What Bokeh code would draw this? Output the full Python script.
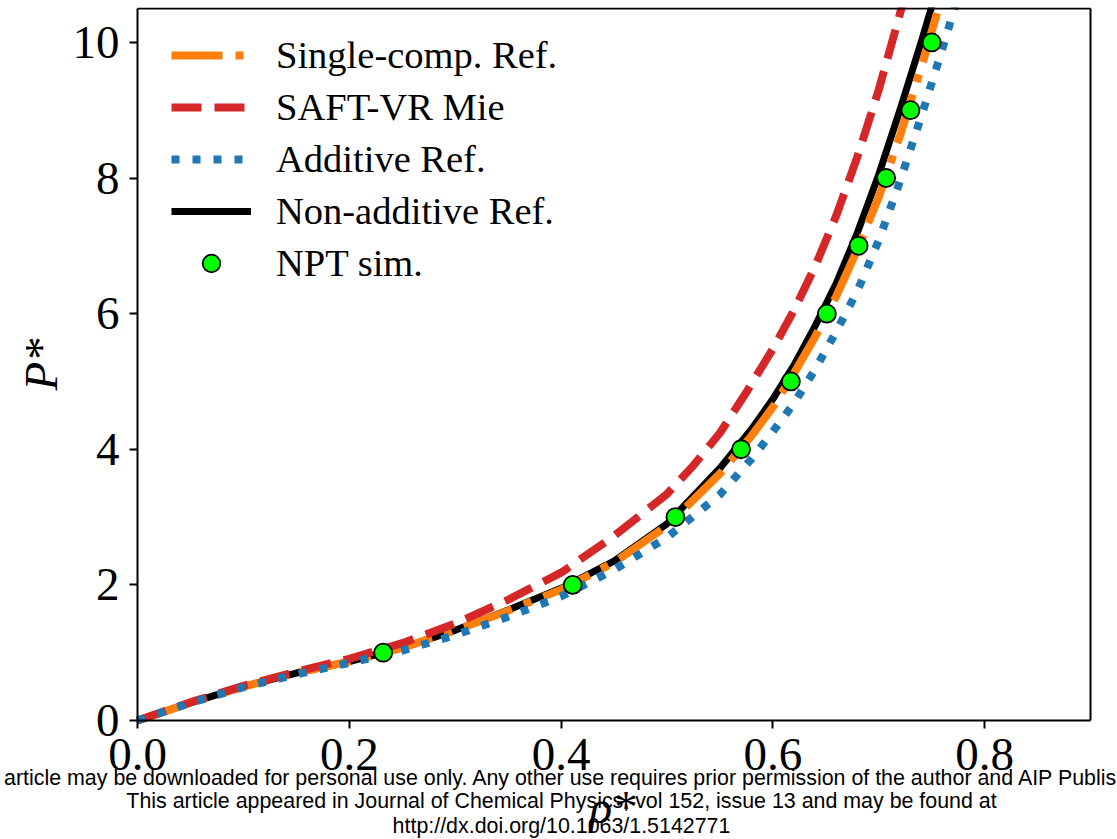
import math
from bokeh.plotting import figure
from bokeh.models import Range1d, FixedTicker, Legend, LegendItem, Label, LinearAxis
from bokeh.embed import file_html
from bokeh.resources import INLINE

# ---- data ----
rho = [0, 0.05, 0.10, 0.15, 0.20, 0.25, 0.30, 0.35, 0.40, 0.45, 0.50, 0.55,
       0.58, 0.60, 0.62, 0.64, 0.66, 0.68, 0.70, 0.72, 0.74, 0.76]
rho_add = rho + [0.78]
p_single = [0, 0.26, 0.50, 0.70, 0.87, 1.07, 1.33, 1.62, 1.93, 2.33, 2.87, 3.64,
            4.20, 4.62, 5.12, 5.66, 6.26, 6.95, 7.72, 8.62, 9.62, 10.70]
p_nonadd = [0, 0.26, 0.50, 0.70, 0.87, 1.07, 1.33, 1.63, 1.95, 2.35, 2.90, 3.72,
            4.30, 4.74, 5.24, 5.82, 6.45, 7.20, 8.05, 9.00, 10.00, 11.05]
rho_saft = [0, 0.05, 0.10, 0.15, 0.20, 0.25, 0.30, 0.35, 0.40, 0.45, 0.50, 0.525, 0.55,
            0.575, 0.60, 0.62, 0.64, 0.66, 0.68, 0.70, 0.72, 0.74]
p_saft = [0, 0.27, 0.51, 0.72, 0.91, 1.14, 1.43, 1.78, 2.18, 2.72, 3.34, 3.76, 4.24,
          4.84, 5.48, 6.05, 6.70, 7.45, 8.32, 9.30, 10.42, 11.60]
p_add = [0, 0.26, 0.49, 0.68, 0.85, 1.03, 1.26, 1.53, 1.83, 2.22, 2.70, 3.33,
         3.86, 4.26, 4.68, 5.18, 5.74, 6.34, 7.08, 7.95, 8.90, 9.90, 10.95]
npt_rho = [0.232, 0.411, 0.508, 0.570, 0.617, 0.651, 0.681, 0.707, 0.730, 0.750]
npt_p = [1, 2, 3, 4, 5, 6, 7, 8, 9, 10]

x_lim = (0.0, 0.9)
y_lim = (0.0, 10.5)
x_ticks = [0.0, 0.2, 0.4, 0.6, 0.8]
x_tick_labels = ["0.0", "0.2", "0.4", "0.6", "0.8"]
y_ticks = [0, 2, 4, 6, 8, 10]
y_tick_labels = ["0", "2", "4", "6", "8", "10"]

labels = ["Single-comp. Ref.", "SAFT-VR Mie", "Additive Ref.", "Non-additive Ref.", "NPT sim."]
watermark = [
    "This article may be downloaded for personal use only. Any other use requires prior permission of the author and AIP Publishing.",
    "This article appeared in Journal of Chemical Physics, vol 152, issue 13 and may be found at",
    "http://dx.doi.org/10.1063/1.5142771",
]

SERIF = "Liberation Serif"
W, H = 1117, 839
# pixel box of the axes in the picture (left, right, top, bottom)
BOX_L, BOX_R, BOX_T, BOX_B = 137, 1090, 8, 720
FRAME_T = 7  # frame starts 1 px above the box so the top border is not halved

# The frame spans the whole canvas (so that texts outside the box are not clipped);
# the box itself is drawn with axes fixed at the data limits.
xs = (x_lim[1] - x_lim[0]) / (BOX_R - BOX_L)
ys = (y_lim[1] - y_lim[0]) / (BOX_B - BOX_T)
x_range = Range1d(x_lim[0] - BOX_L * xs, x_lim[1] + (W - BOX_R) * xs)
y_range = Range1d(y_lim[0] - (H - BOX_B) * ys, y_lim[1] + (BOX_T - FRAME_T) * ys)

p = figure(width=W, height=H, output_backend="svg", toolbar_location=None,
           x_range=x_range, y_range=y_range,
           min_border_left=0, min_border_right=0, min_border_top=FRAME_T, min_border_bottom=0)
p.background_fill_color = "white"
p.border_fill_color = "white"
p.outline_line_color = None
p.xgrid.visible = False
p.ygrid.visible = False

r_black = p.line(rho, p_nonadd, line_color="black", line_width=7)
r_orange = p.line(rho, p_single, line_color="#ff7f0e", line_width=8, line_dash="51 13 8 13")
r_red = p.line(rho_saft, p_saft, line_color="#d62728", line_width=8, line_dash="30 13")
r_blue = p.line(rho_add, p_add, line_color="#1f77b4", line_width=8, line_dash="8 13")
r_npt = p.scatter(npt_rho, npt_p, marker="circle", size=18, fill_color="#00ff00",
                  line_color="black", line_width=1.8)

xax = p.xaxis[0]
yax = p.yaxis[0]
xax.fixed_location = y_lim[0]
yax.fixed_location = x_lim[0]
xax.bounds = x_lim
yax.bounds = y_lim
for ax, ticks, tlabels in ((xax, x_ticks, x_tick_labels), (yax, y_ticks, y_tick_labels)):
    ax.ticker = FixedTicker(ticks=ticks)
    ax.major_label_overrides = {t: l for t, l in zip(ticks, tlabels)}
    ax.minor_tick_line_color = None
    ax.major_tick_out = 8
    ax.major_tick_in = 0
    ax.major_tick_line_width = 2
    ax.axis_line_width = 2
    ax.axis_line_color = "black"
    ax.major_tick_line_color = "black"
    ax.major_label_text_color = "black"
    ax.major_label_text_font = SERIF
    ax.major_label_text_font_size = "47px"
xax.major_label_standoff = 10
yax.major_label_standoff = 10

# top and right borders of the box
for loc, bnds, side in ((y_lim[1], x_lim, "above"), (x_lim[1], y_lim, "right")):
    border = LinearAxis(fixed_location=loc, bounds=bnds, ticker=FixedTicker(ticks=[]),
                        axis_line_width=2, axis_line_color="black",
                        major_label_text_font_size="0px",
                        minor_tick_line_color=None, major_tick_line_color=None)
    p.add_layout(border, side)

# axis titles
p.add_layout(Label(x=40, y=H - 364, x_units="screen", y_units="screen", text="P*",
                   angle=math.pi / 2, text_align="center", text_baseline="middle",
                   text_font=SERIF, text_font_size="47px", text_font_style="italic",
                   text_color="black"))
p.add_layout(Label(x=612, y=H - 806, x_units="screen", y_units="screen", text="ρ*",
                   text_align="center", text_baseline="middle",
                   text_font=SERIF, text_font_size="47px", text_font_style="italic",
                   text_color="black"))

legend = Legend(items=[
    LegendItem(label=labels[0], renderers=[r_orange]),
    LegendItem(label=labels[1], renderers=[r_red]),
    LegendItem(label=labels[2], renderers=[r_blue]),
    LegendItem(label=labels[3], renderers=[r_black]),
    LegendItem(label=labels[4], renderers=[r_npt]),
], location=(BOX_L + 24, 544))
legend.padding = 10
legend.margin = 0
legend.glyph_width = 80
legend.glyph_height = 44
legend.label_height = 44
legend.spacing = 8
legend.label_standoff = 25
legend.label_text_font = SERIF
legend.label_text_font_size = "38.5px"
legend.label_text_color = "black"
legend.border_line_alpha = 0
legend.background_fill_alpha = 0
p.add_layout(legend, "center")

for txt, yy in zip(watermark, (777, 800, 825)):
    p.add_layout(Label(x=561, y=H - yy, x_units="screen", y_units="screen", text=txt,
                       text_align="center", text_baseline="middle",
                       text_font="Liberation Sans", text_font_size="21.4px",
                       text_color="black"))

open("out.html", "w").write(file_html(p, INLINE))
